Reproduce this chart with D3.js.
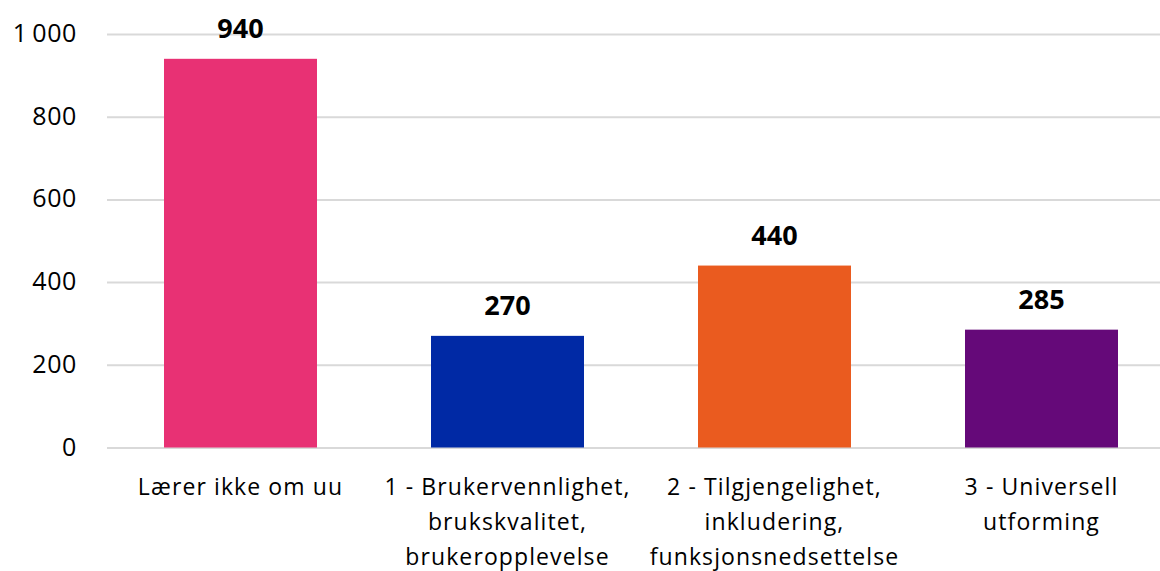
<!DOCTYPE html>
<html>
<head>
<meta charset="utf-8">
<script src="https://cdn.jsdelivr.net/npm/d3@7"></script>
<style>
  html, body { margin: 0; padding: 0; background: #fff; }
  svg { display: block; }
  svg text { font-family: "Open Sans", sans-serif; }
</style>
</head>
<body>
<svg id="chart" width="1160" height="571"></svg>
<script>
const categories = [
  "Lærer ikke om uu",
  "1 - Brukervennlighet,\nbrukskvalitet,\nbrukeropplevelse",
  "2 - Tilgjengelighet,\ninkludering,\nfunksjonsnedsettelse",
  "3 - Universell\nutforming"
];
const values = [940, 270, 440, 285];
const colors = ["#E83174", "#0029A5", "#EA5B1F", "#650979"];
const yTicks = [0, 200, 400, 600, 800, 1000];

(function () {
const svg = d3.select("#chart");
const mLeft = 107, mRight = 1175, mTop = 34, mBottom = 447.5;

const x = d3.scaleBand().domain(categories).range([mLeft, mRight])
  .paddingInner(0.427).paddingOuter(0.2135);
const y = d3.scaleLinear().domain([0, 1000]).range([mBottom, mTop]);

const locale = d3.formatLocale({decimal: ",", thousands: "\u2009", grouping: [3], currency: ["", ""]});
const fmt = locale.format(",");

// y axis with gridlines
const yAxis = svg.append("g")
  .attr("transform", `translate(${mLeft},0)`)
  .call(d3.axisLeft(y).tickValues(yTicks).tickFormat(fmt).tickSize(-(1160 - mLeft)).tickPadding(30));
yAxis.attr("font-family", null);
yAxis.select(".domain").remove();
yAxis.selectAll(".tick line").attr("stroke", "#d9d9d9").attr("stroke-width", 2);
yAxis.selectAll(".tick text").attr("fill", "#000")
  .style("font-size", "25px").style("letter-spacing", "0.6px").attr("dy", "0.3em");

// bars
svg.append("g").selectAll("rect").data(values).join("rect")
  .attr("x", (d, i) => x(categories[i]))
  .attr("y", d => y(d))
  .attr("width", x.bandwidth())
  .attr("height", d => y(0) - y(d))
  .attr("fill", (d, i) => colors[i]);

// value labels
svg.append("g").selectAll("text").data(values).join("text")
  .attr("x", (d, i) => x(categories[i]) + x.bandwidth() / 2)
  .attr("y", d => y(d) - 20.5)
  .attr("text-anchor", "middle")
  .style("font-size", "27px").style("font-weight", "bold")
  .attr("fill", "#000")
  .text(d => d);

// x axis
const xAxis = svg.append("g")
  .attr("transform", `translate(0,${mBottom})`)
  .call(d3.axisBottom(x).tickSize(0).tickPadding(0));
xAxis.attr("font-family", null);
xAxis.select(".domain").remove();
xAxis.selectAll(".tick text").each(function(d) {
  const t = d3.select(this);
  t.text(null).attr("y", 0).attr("dy", null).attr("fill", "#000")
    .style("font-size", "23px").style("letter-spacing", "1.1px");
  d.split("\n").forEach((line, i) => {
    t.append("tspan").attr("x", 0).attr("y", 47 + i * 35).text(line);
  });
});
})();
</script>
</body>
</html>
